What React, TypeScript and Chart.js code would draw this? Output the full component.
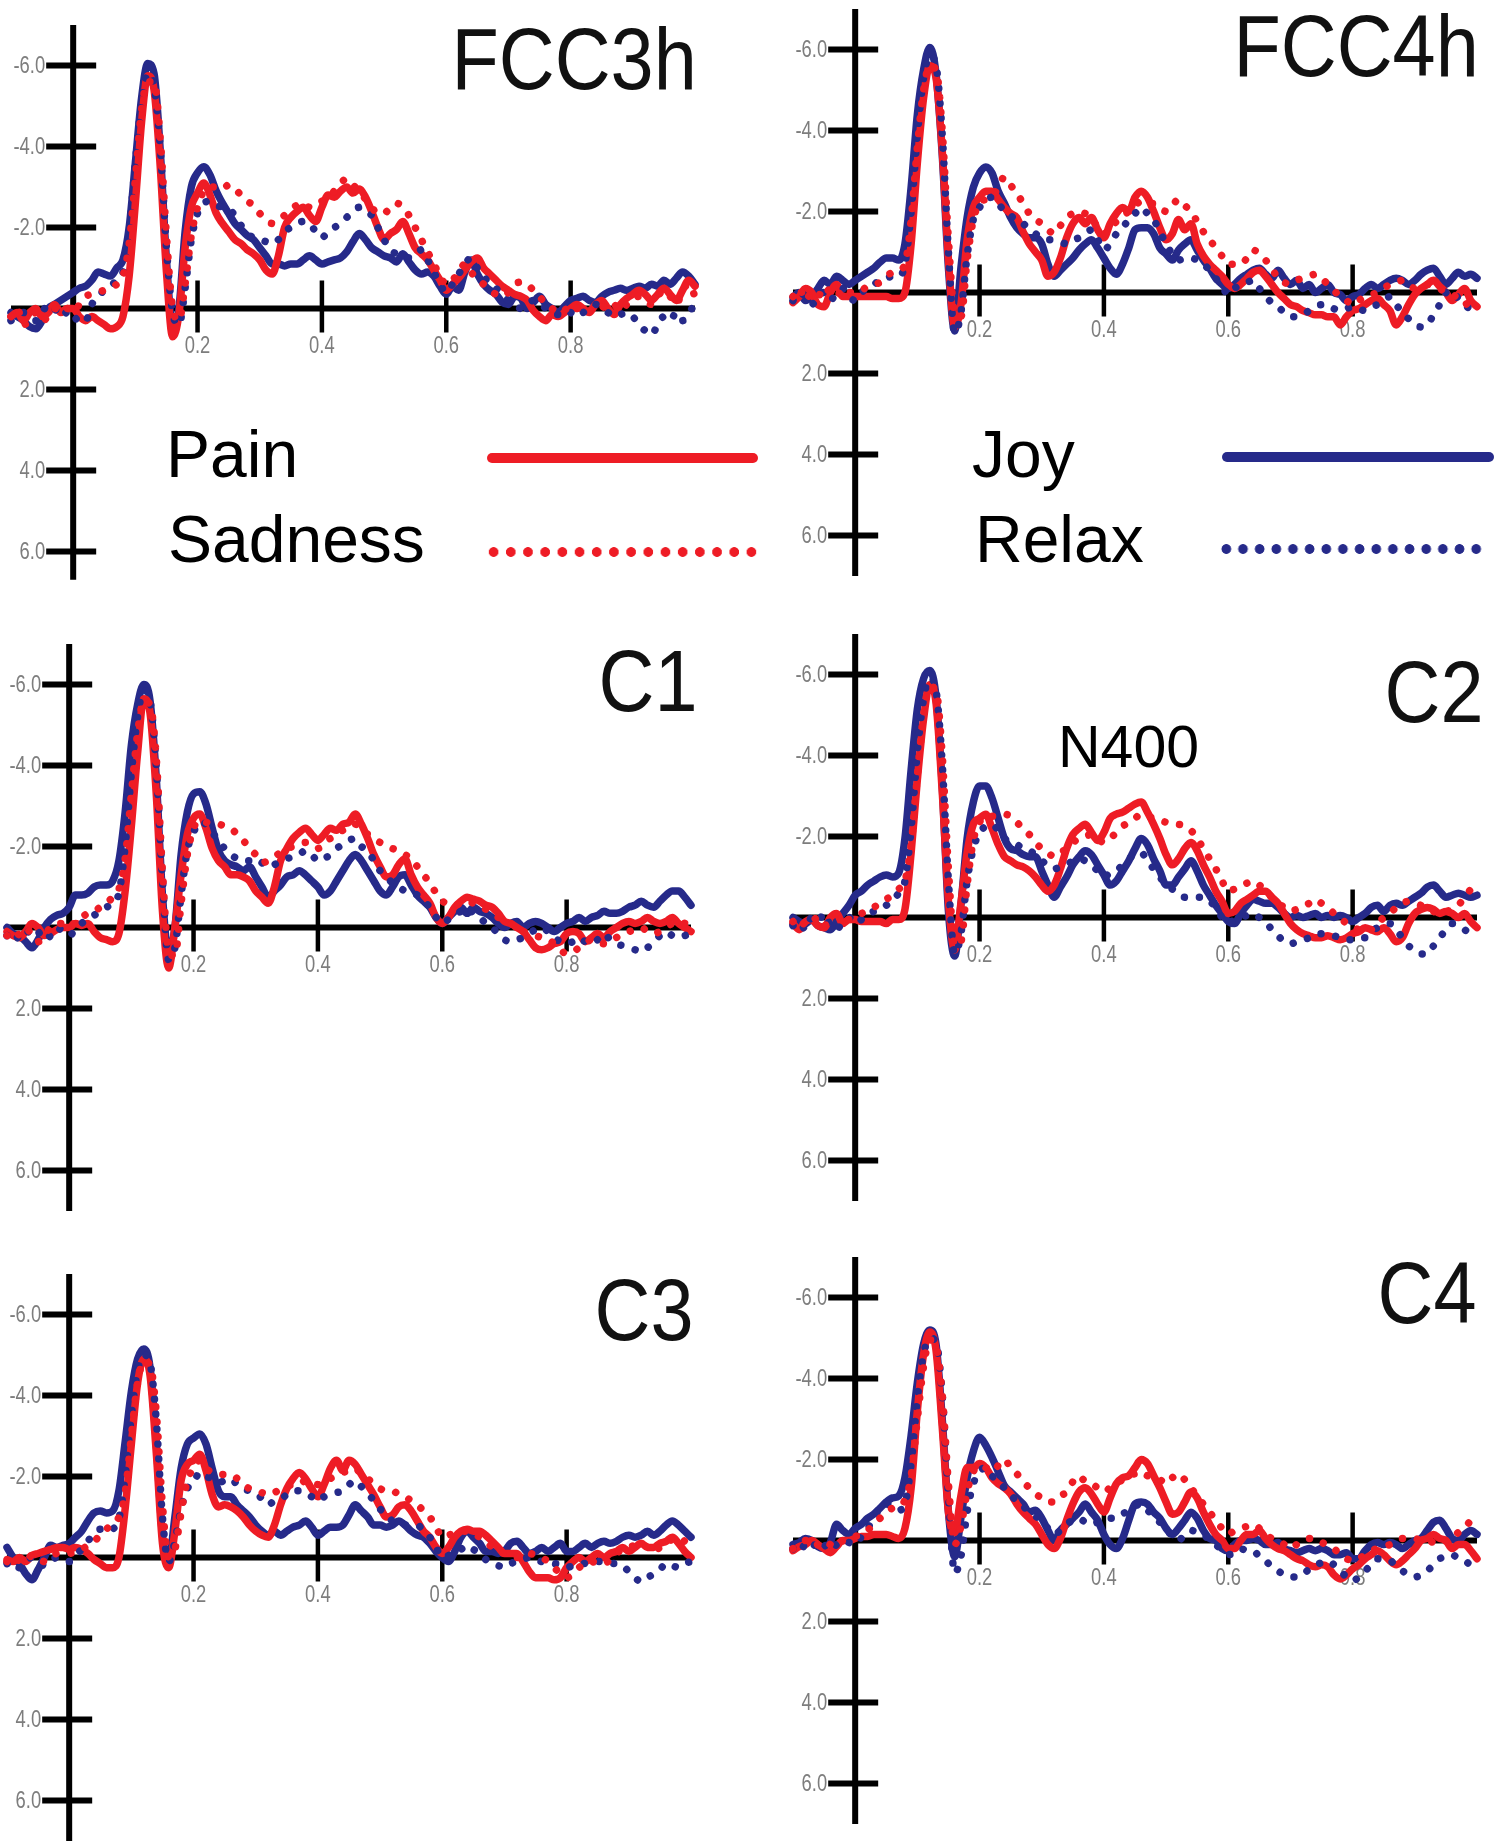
import React, { useEffect, useRef } from "react";
import { Chart, registerables } from "chart.js";

Chart.register(...registerables);

// ---------- data ----------
const TIME = [
  -0.1, -0.09, -0.08, -0.07, -0.06, -0.05, -0.04, -0.03, -0.02, -0.01,
  0.0, 0.01, 0.02, 0.03, 0.04, 0.05, 0.06, 0.07, 0.08, 0.09,
  0.1, 0.11, 0.12, 0.13, 0.14, 0.15, 0.16, 0.17, 0.18, 0.19,
  0.2, 0.21, 0.22, 0.23, 0.24, 0.25, 0.26, 0.27, 0.28, 0.29,
  0.3, 0.31, 0.32, 0.33, 0.34, 0.35, 0.36, 0.37, 0.38, 0.39,
  0.4, 0.41, 0.42, 0.43, 0.44, 0.45, 0.46, 0.47, 0.48, 0.49,
  0.5, 0.51, 0.52, 0.53, 0.54, 0.55, 0.56, 0.57, 0.58, 0.59,
  0.6, 0.61, 0.62, 0.63, 0.64, 0.65, 0.66, 0.67, 0.68, 0.69,
  0.7, 0.71, 0.72, 0.73, 0.74, 0.75, 0.76, 0.77, 0.78, 0.79,
  0.8, 0.81, 0.82, 0.83, 0.84, 0.85, 0.86, 0.87, 0.88, 0.89,
  0.9, 0.91, 0.92, 0.93, 0.94, 0.95, 0.96, 0.97, 0.98, 0.99,
  1.0,
];

const SERIES_NAMES = ["Pain", "Sadness", "Joy", "Relax"];
const PANEL_NAMES = ["FCC3h", "FCC4h", "C1", "C2", "C3", "C4"];
const Y_TICKS = [-6, -4, -2, 2, 4, 6];
const Y_TICK_LABELS = ["-6.0", "-4.0", "-2.0", "2.0", "4.0", "6.0"];
const X_TICKS = [0.2, 0.4, 0.6, 0.8];
const X_TICK_LABELS = ["0.2", "0.4", "0.6", "0.8"];
const ANNOTATION = "N400";

// FCC3h
const FCC3H_PAIN = [
  0.2, 0.1, 0.3, 0.1, 0.0, 0.2, 0.1, -0.1, 0.1, 0.0,
  0.0, 0.2, 0.3, 0.2, 0.3, 0.4, 0.5, 0.45, 0.2, -0.8,
  -2.6, -4.6, -5.75, -5.4, -3.5, -0.9, 0.7, 0.15, -1.5, -2.5,
  -2.85, -3.1, -2.8, -2.35, -2.1, -1.9, -1.7, -1.6, -1.45, -1.35,
  -1.2, -0.95, -0.85, -1.3, -2.0, -2.25, -2.4, -2.5, -2.3, -2.15,
  -2.5, -2.8, -2.75, -2.9, -3.0, -2.85, -2.95, -2.75, -2.4, -2.0,
  -1.7, -1.85, -1.95, -2.15, -1.85, -1.5, -1.35, -1.2, -0.95, -0.7,
  -0.45, -0.6, -0.75, -0.95, -1.15, -1.25, -1.0, -0.85, -0.7, -0.55,
  -0.45, -0.35, -0.3, -0.2, 0.05, 0.2, 0.3, 0.15, 0.2, 0.1,
  0.0, -0.1, 0.0, 0.1, -0.1, -0.2, 0.0, 0.15, -0.1, -0.25,
  -0.35, -0.45, -0.35, -0.2, -0.35, -0.5, -0.35, -0.2, -0.45, -0.7,
  -0.55,
];
const FCC3H_SAD = [
  0.2, 0.0, 0.4, 0.3, 0.1, 0.3, 0.2, 0.0, 0.1, 0.0,
  0.1, -0.1, -0.3, -0.35, -0.4, -0.45, -0.5, -0.6, -0.8, -1.6,
  -3.2, -4.9, -5.6, -5.6, -4.2, -1.8, 0.0, 0.3, -0.6, -1.8,
  -2.5, -2.9, -3.0, -3.0, -2.95, -3.05, -2.95, -2.8, -2.65, -2.55,
  -2.35, -2.2, -2.1, -2.2, -2.3, -2.45, -2.55, -2.6, -2.5, -2.55,
  -2.65, -2.75, -2.9, -3.1, -3.2, -3.05, -2.9, -2.7, -2.5, -2.35,
  -2.35, -2.5, -2.6, -2.5, -2.3, -2.0, -1.7, -1.4, -1.1, -0.8,
  -0.6, -0.7, -0.9, -1.1, -0.9, -0.7, -0.6, -0.45, -0.35, -0.3,
  -0.4, -0.6, -0.65, -0.6, -0.45, -0.3, -0.1, 0.0, 0.1, 0.05,
  -0.1, 0.0, -0.05, 0.0, 0.1, 0.0, -0.15, -0.1, 0.05, -0.1,
  -0.25, -0.3, -0.2, -0.1, -0.3, -0.45, -0.3, -0.1, -0.45, -0.6,
  -0.3,
];
const FCC3H_JOY = [
  0.1, 0.2, 0.3, 0.45, 0.5, 0.3, 0.0, -0.1, -0.2, -0.3,
  -0.4, -0.5, -0.55, -0.7, -0.9, -0.85, -0.8, -1.0, -1.2, -2.0,
  -3.6, -5.2, -6.05, -5.8, -3.9, -1.2, 0.45, 0.0, -1.9, -3.0,
  -3.35, -3.5, -3.3, -2.9, -2.6, -2.35, -2.1, -1.95, -1.8, -1.7,
  -1.5, -1.3, -1.1, -1.1, -1.05, -1.1, -1.1, -1.2, -1.3, -1.2,
  -1.1, -1.15, -1.2, -1.25, -1.4, -1.65, -1.85, -1.7, -1.5, -1.4,
  -1.3, -1.25, -1.15, -1.35, -1.15, -0.95, -0.85, -0.9, -0.8, -0.55,
  -0.35, -0.55, -0.45, -0.9, -1.2, -0.85, -0.6, -0.45, -0.35, -0.15,
  -0.1, -0.3, -0.25, 0.0, -0.15, -0.3, -0.1, 0.0, 0.1, -0.05,
  -0.2, -0.25, -0.3, -0.2, -0.15, -0.3, -0.4, -0.45, -0.5, -0.45,
  -0.5, -0.55, -0.5, -0.6, -0.55, -0.7, -0.6, -0.75, -0.9, -0.8,
  -0.6,
];
const FCC3H_RELAX = [
  0.3, 0.2, 0.1, 0.2, 0.3, 0.1, -0.1, 0.0, 0.2, 0.1,
  0.3, 0.2, 0.3, -0.1, -0.3, -0.45, -0.55, -0.7, -0.9, -1.9,
  -3.6, -5.1, -5.8, -5.5, -4.0, -1.5, 0.1, 0.4, -0.5, -1.7,
  -2.35, -2.6, -2.65, -2.55, -2.5, -2.45, -2.3, -2.05, -1.85, -1.75,
  -1.7, -1.65, -1.6, -1.7, -1.9, -2.0, -2.1, -2.15, -2.1, -1.9,
  -1.75, -1.9, -2.0, -2.1, -2.25, -2.4, -2.5, -2.4, -2.3, -2.0,
  -1.7, -1.45, -1.35, -1.3, -1.25, -1.3, -1.45, -1.2, -0.9, -0.6,
  -0.4, -0.6, -0.85, -1.1, -1.25, -1.0, -0.8, -0.6, -0.5, -0.3,
  -0.2, -0.1, 0.0, -0.1, -0.2, -0.15, 0.0, 0.1, 0.15, 0.05,
  0.1, 0.2, 0.1, 0.0, -0.1, 0.0, 0.1, 0.2, 0.15, 0.1,
  0.2, 0.4, 0.55, 0.65, 0.4, 0.2, 0.3, 0.1, 0.3, 0.1,
  -0.1,
];

// FCC4h
const FCC4H_PAIN = [
  0.25, 0.1, -0.1, 0.0, 0.3, 0.35, 0.0, -0.2, 0.1, 0.1,
  0.1, 0.1, 0.1, 0.1, 0.1, 0.1, 0.15, 0.15, 0.0, -1.2,
  -3.2, -4.8, -5.6, -5.3, -3.5, -0.8, 0.85, 0.3, -1.3, -2.1,
  -2.35, -2.5, -2.5, -2.3, -2.1, -1.95, -1.85, -1.5, -1.2, -1.0,
  -0.8, -0.4, -0.5, -0.85, -1.35, -1.7, -1.85, -1.7, -1.85, -1.55,
  -1.35, -1.7, -1.95, -2.1, -2.0, -2.35, -2.5, -2.35, -2.0, -1.6,
  -1.3, -1.45, -1.8, -1.55, -1.7, -1.2, -0.9, -0.7, -0.55, -0.4,
  -0.2, -0.1, -0.2, -0.35, -0.5, -0.55, -0.4, -0.2, 0.0, 0.15,
  0.3, 0.35, 0.45, 0.5, 0.55, 0.55, 0.6, 0.6, 0.8, 0.6,
  0.45, 0.4, 0.3, 0.2, 0.15, 0.3, 0.45, 0.8, 0.6, 0.3,
  0.05, -0.1, -0.2, -0.3, -0.15, 0.0, 0.2, 0.05, -0.1, 0.2,
  0.35,
];
const FCC4H_SAD = [
  0.1, -0.1, 0.2, 0.0, 0.1, -0.15, 0.0, 0.1, -0.1, 0.0,
  0.0, -0.05, -0.15, -0.2, -0.25, -0.4, -0.5, -0.55, -0.7, -1.8,
  -3.6, -5.0, -5.6, -5.5, -4.0, -1.3, 0.5, 0.6, -0.8, -1.8,
  -2.2, -2.3, -2.35, -2.6, -2.85, -2.65, -2.45, -2.2, -1.95, -1.8,
  -1.7, -1.55, -1.45, -1.65, -1.85, -1.95, -2.0, -1.95, -1.85, -1.6,
  -1.45, -1.6, -1.75, -1.9, -2.0, -2.15, -2.25, -2.2, -2.2, -2.1,
  -2.0, -2.15, -2.3, -2.15, -2.0, -1.75, -1.5, -1.3, -1.1, -0.9,
  -0.7, -0.7, -0.7, -0.85, -1.05, -0.95, -0.8, -0.6, -0.35, -0.25,
  -0.2, -0.3, -0.35, -0.4, -0.45, -0.35, -0.2, -0.05, 0.1, 0.2,
  0.3, 0.2, 0.1, 0.05, 0.0, -0.1, -0.2, -0.25, -0.3, -0.2,
  -0.1, -0.15, -0.2, -0.15, -0.1, 0.0, 0.05, 0.15, 0.3, 0.2,
  0.1,
];
const FCC4H_JOY = [
  0.12, 0.0, 0.2, 0.1, -0.1, -0.3, -0.2, -0.4, -0.3, -0.2,
  -0.3, -0.4, -0.5, -0.6, -0.75, -0.85, -0.85, -0.8, -1.2, -2.6,
  -4.4, -5.5, -6.05, -5.4, -3.4, -0.6, 0.95, -0.6, -1.85, -2.6,
  -2.95, -3.1, -2.95, -2.5, -2.2, -1.85, -1.6, -1.45, -1.35, -1.35,
  -1.2, -0.7, -0.4, -0.55, -0.7, -0.85, -1.05, -1.2, -1.3, -1.1,
  -0.85, -0.6, -0.45, -0.7, -1.1, -1.55, -1.6, -1.6, -1.45, -1.1,
  -0.95, -0.8, -1.05, -1.2, -1.3, -1.05, -0.8, -0.6, -0.35, -0.2,
  -0.1, -0.2, -0.35, -0.45, -0.55, -0.6, -0.45, -0.35, -0.55, -0.35,
  -0.2, -0.3, -0.1, -0.2, 0.0, -0.1, -0.2, 0.0, 0.05, 0.2,
  0.1, 0.05, -0.1, -0.2, -0.1, -0.2, -0.3, -0.35, -0.3, -0.2,
  -0.3, -0.45, -0.55, -0.6, -0.4, -0.2, -0.35, -0.5, -0.4, -0.45,
  -0.35,
];
const FCC4H_RELAX = [
  0.2, 0.0, 0.1, 0.3, 0.1, 0.0, 0.2, 0.0, -0.1, 0.1,
  0.2, 0.0, -0.1, -0.2, -0.3, -0.35, -0.4, -0.4, -0.7, -2.0,
  -3.9, -5.3, -5.85, -5.6, -3.9, -1.0, 1.0, 0.5, -0.9, -1.8,
  -2.1, -2.3, -2.35, -2.2, -2.0, -1.9, -1.75, -1.7, -1.55, -1.45,
  -1.35, -1.3, -1.3, -1.25, -1.2, -1.3, -1.35, -1.45, -1.55, -1.3,
  -1.05, -1.2, -1.45, -1.6, -1.8, -1.95, -2.1, -1.95, -1.8, -1.5,
  -1.2, -0.95, -0.8, -0.85, -0.85, -0.8, -0.7, -0.55, -0.35, -0.15,
  0.05, -0.1, -0.2, -0.25, -0.3, -0.1, 0.1, 0.25, 0.35, 0.5,
  0.6, 0.6, 0.55, 0.45, 0.35, 0.3, 0.3, 0.4, 0.45, 0.4,
  0.35, 0.4, 0.45, 0.35, 0.3, 0.2, 0.1, 0.3, 0.5, 0.65,
  0.8, 0.85, 0.8, 0.55, 0.3, 0.0, -0.05, 0.15, 0.3, 0.4,
  0.4,
];

// C1
const C1_PAIN = [
  0.1, 0.2, 0.25, 0.1, -0.1, 0.0, 0.2, 0.15, 0.05, 0.0,
  0.0, -0.1, -0.05, -0.1, 0.1, 0.25, 0.3, 0.35, 0.15, -0.9,
  -2.5, -4.3, -5.65, -5.3, -3.3, -0.4, 1.0, 0.0, -1.3, -2.3,
  -2.7, -2.8, -2.45, -1.95, -1.65, -1.5, -1.3, -1.3, -1.25, -1.15,
  -0.9, -0.75, -0.6, -1.0, -1.65, -1.95, -2.2, -2.35, -2.45, -2.3,
  -2.15, -2.3, -2.45, -2.4, -2.55, -2.6, -2.8, -2.55, -2.2, -1.8,
  -1.5, -1.25, -1.3, -1.55, -1.7, -1.3, -1.0, -0.8, -0.6, -0.25,
  -0.1, -0.25, -0.5, -0.65, -0.75, -0.7, -0.65, -0.55, -0.5, -0.35,
  -0.15, -0.1, 0.0, 0.1, 0.3, 0.5, 0.55, 0.5, 0.4, 0.35,
  0.15, 0.1, 0.15, 0.35, 0.25, 0.15, 0.25, 0.1, 0.0, -0.1,
  -0.15, -0.1, -0.15, -0.25, -0.15, -0.1, -0.15, -0.25, -0.1, 0.0,
  0.1,
];
const C1_SAD = [
  0.2, 0.3, 0.15, 0.0, 0.2, 0.35, 0.2, 0.0, -0.1, -0.1,
  0.0, -0.15, -0.25, -0.35, -0.4, -0.5, -0.6, -0.75, -0.95, -1.7,
  -3.3, -4.8, -5.6, -5.5, -4.2, -1.4, 0.6, 0.7, -0.6, -1.8,
  -2.45, -2.65, -2.6, -2.55, -2.55, -2.5, -2.45, -2.3, -2.15, -1.95,
  -1.8, -1.6, -1.65, -1.75, -1.85, -1.95, -2.0, -2.05, -2.1, -2.0,
  -1.95, -2.1, -2.2, -2.3, -2.4, -2.45, -2.55, -2.4, -2.3, -2.2,
  -2.1, -2.05, -1.95, -1.9, -1.8, -1.7, -1.5, -1.3, -1.1, -0.85,
  -0.65, -0.6, -0.55, -0.6, -0.65, -0.6, -0.55, -0.45, -0.35, -0.25,
  -0.15, -0.1, 0.0, 0.1, 0.15, 0.2, 0.25, 0.3, 0.4, 0.55,
  0.65, 0.6, 0.5, 0.4, 0.3, 0.35, 0.4, 0.35, 0.25, 0.15,
  0.1, 0.05, 0.0, 0.1, 0.15, 0.1, 0.0, -0.1, -0.15, -0.1,
  -0.05,
];
const C1_JOY = [
  0.0, 0.15, 0.2, 0.35, 0.5, 0.3, 0.0, -0.2, -0.3, -0.35,
  -0.5, -0.8, -0.8, -0.85, -1.0, -1.05, -1.05, -1.15, -1.65, -2.85,
  -4.5, -5.5, -6.0, -5.6, -3.7, -0.8, 0.65, 0.0, -1.8, -2.85,
  -3.3, -3.35, -3.05, -2.45, -1.9, -1.65, -1.55, -1.5, -1.4, -1.5,
  -1.25, -1.0, -0.75, -0.9, -1.05, -1.25, -1.3, -1.4, -1.3, -1.15,
  -1.0, -0.8, -0.9, -1.15, -1.4, -1.65, -1.8, -1.65, -1.4, -1.15,
  -0.9, -0.8, -1.0, -1.25, -1.3, -1.05, -0.8, -0.65, -0.5, -0.25,
  -0.1, -0.25, -0.4, -0.5, -0.35, -0.5, -0.4, -0.35, -0.25, -0.1,
  0.0, -0.1, -0.15, 0.0, -0.1, -0.15, -0.1, 0.0, 0.1, 0.0,
  -0.1, -0.15, -0.25, -0.15, -0.25, -0.3, -0.4, -0.35, -0.35, -0.4,
  -0.5, -0.55, -0.65, -0.55, -0.5, -0.65, -0.8, -0.9, -0.9, -0.75,
  -0.55,
];
const C1_RELAX = [
  0.2, 0.1, 0.3, 0.2, 0.0, 0.1, 0.3, 0.2, 0.0, 0.1,
  0.2, 0.05, -0.1, -0.2, -0.3, -0.4, -0.5, -0.6, -0.85, -2.0,
  -3.8, -5.2, -5.85, -5.6, -4.0, -1.2, 0.8, 0.5, -0.8, -1.9,
  -2.35, -2.6, -2.55, -2.35, -2.15, -1.95, -1.8, -1.7, -1.65, -1.65,
  -1.7, -1.6, -1.5, -1.55, -1.65, -1.7, -1.75, -1.8, -1.9, -1.8,
  -1.65, -1.7, -1.8, -1.95, -2.05, -2.15, -2.2, -2.0, -1.9, -1.65,
  -1.4, -1.25, -1.1, -1.0, -0.9, -0.85, -0.8, -0.65, -0.5, -0.25,
  -0.1, -0.2, -0.3, -0.4, -0.5, -0.35, -0.25, -0.1, 0.0, 0.15,
  0.3, 0.35, 0.3, 0.25, 0.15, 0.05, 0.0, 0.1, 0.25, 0.35,
  0.4, 0.35, 0.25, 0.35, 0.4, 0.3, 0.15, 0.3, 0.4, 0.45,
  0.5, 0.55, 0.6, 0.5, 0.35, 0.2, 0.1, 0.2, 0.25, 0.2,
  0.15,
];

// C2
const C2_PAIN = [
  0.15, 0.3, 0.1, 0.05, 0.2, 0.25, 0.0, -0.1, 0.15, 0.05,
  0.05, 0.1, 0.1, 0.1, 0.1, 0.15, 0.05, 0.05, -0.2, -1.6,
  -3.4, -4.9, -5.75, -5.3, -3.1, -0.4, 0.8, -0.35, -1.6, -2.3,
  -2.45, -2.55, -2.2, -1.8, -1.5, -1.4, -1.3, -1.25, -1.15, -1.0,
  -0.8, -0.65, -0.8, -1.2, -1.7, -2.05, -2.2, -2.3, -2.1, -1.9,
  -2.1, -2.45, -2.55, -2.6, -2.7, -2.8, -2.85, -2.6, -2.3, -1.95,
  -1.55, -1.3, -1.45, -1.7, -1.85, -1.65, -1.3, -1.0, -0.65, -0.4,
  -0.1, -0.15, -0.35, -0.45, -0.55, -0.65, -0.65, -0.5, -0.35, -0.1,
  0.15, 0.3, 0.4, 0.45, 0.5, 0.5, 0.45, 0.5, 0.55, 0.5,
  0.4, 0.35, 0.25, 0.3, 0.35, 0.25, 0.4, 0.6, 0.5, 0.15,
  -0.1, -0.2, -0.25, -0.2, -0.1, -0.15, -0.1, 0.0, -0.1, 0.1,
  0.25,
];
const C2_SAD = [
  0.1, 0.0, 0.2, 0.1, 0.0, 0.2, 0.1, -0.1, 0.0, 0.05,
  0.0, -0.1, -0.15, -0.25, -0.35, -0.45, -0.55, -0.7, -0.9, -1.8,
  -3.5, -5.0, -5.7, -5.6, -4.0, -1.2, 0.7, 0.6, -0.8, -1.9,
  -2.35, -2.5, -2.5, -2.5, -2.55, -2.5, -2.35, -2.2, -2.05, -1.85,
  -1.7, -1.6, -1.5, -1.6, -1.7, -1.85, -1.95, -2.0, -2.05, -1.95,
  -1.85, -1.95, -2.1, -2.25, -2.35, -2.45, -2.55, -2.5, -2.45, -2.4,
  -2.35, -2.3, -2.3, -2.25, -2.15, -1.95, -1.7, -1.45, -1.2, -0.9,
  -0.65, -0.7, -0.75, -0.85, -0.9, -0.8, -0.65, -0.5, -0.35, -0.25,
  -0.15, -0.2, -0.25, -0.35, -0.45, -0.35, -0.25, -0.1, 0.0, 0.15,
  0.25, 0.3, 0.35, 0.3, 0.15, 0.0, -0.1, -0.25, -0.35, -0.4,
  -0.35, -0.3, -0.25, -0.15, -0.1, -0.15, -0.2, -0.3, -0.5, -0.7,
  -0.9,
];
const C2_JOY = [
  0.0, 0.1, 0.15, 0.05, 0.2, 0.25, 0.3, 0.1, -0.1, -0.3,
  -0.55, -0.65, -0.8, -0.9, -1.0, -1.05, -1.0, -1.1, -1.95, -3.65,
  -5.15, -5.9, -6.1, -5.45, -3.25, -0.15, 0.95, -0.3, -1.95, -2.85,
  -3.25, -3.25, -2.95, -2.45, -1.95, -1.7, -1.65, -1.55, -1.5, -1.5,
  -1.15, -0.8, -0.5, -0.75, -1.0, -1.3, -1.5, -1.65, -1.55, -1.3,
  -1.05, -0.8, -0.9, -1.15, -1.4, -1.7, -1.95, -1.8, -1.45, -1.15,
  -0.8, -0.8, -1.0, -1.2, -1.4, -1.15, -0.8, -0.55, -0.3, -0.1,
  0.1, 0.15, -0.1, -0.3, -0.45, -0.4, -0.35, -0.35, -0.25, -0.1,
  0.0, -0.05, 0.0, -0.05, -0.1, 0.0, -0.05, 0.0, -0.05, 0.0,
  0.1, 0.0, -0.1, -0.25, -0.3, -0.15, -0.3, -0.35, -0.3, -0.4,
  -0.5, -0.6, -0.75, -0.8, -0.65, -0.5, -0.55, -0.6, -0.55, -0.5,
  -0.55,
];
const C2_RELAX = [
  0.2, 0.1, 0.3, 0.0, 0.1, -0.1, 0.2, 0.3, 0.1, 0.0,
  0.15, 0.05, -0.1, -0.15, -0.2, -0.3, -0.45, -0.6, -0.9, -2.2,
  -4.1, -5.4, -5.9, -5.6, -3.8, -0.9, 0.9, 0.4, -0.9, -1.7,
  -2.1, -2.25, -2.3, -2.15, -1.95, -1.85, -1.8, -1.7, -1.65, -1.55,
  -1.4, -1.3, -1.2, -1.25, -1.3, -1.4, -1.45, -1.4, -1.3, -1.15,
  -1.0, -1.1, -1.15, -1.3, -1.45, -1.55, -1.6, -1.4, -1.2, -1.0,
  -0.8, -0.7, -0.55, -0.5, -0.5, -0.5, -0.5, -0.4, -0.25, 0.0,
  0.15, 0.05, 0.0, -0.05, -0.1, 0.0, 0.1, 0.3, 0.45, 0.6,
  0.65, 0.6, 0.55, 0.5, 0.4, 0.4, 0.4, 0.45, 0.5, 0.55,
  0.55, 0.5, 0.5, 0.35, 0.25, 0.2, 0.15, 0.3, 0.5, 0.7,
  0.8, 0.9, 0.9, 0.7, 0.5, 0.3, 0.15, 0.2, 0.3, 0.4,
  0.4,
];

// C3
const C3_PAIN = [
  0.05, 0.1, 0.0, 0.1, -0.05, -0.1, -0.15, -0.2, -0.25, -0.25,
  -0.2, -0.25, -0.2, -0.1, 0.05, 0.15, 0.25, 0.25, 0.0, -1.2,
  -2.8, -4.3, -4.9, -4.5, -2.6, -0.35, 0.25, -0.65, -1.9, -2.3,
  -2.4, -2.55, -2.15, -1.55, -1.25, -1.3, -1.25, -1.15, -1.0, -0.8,
  -0.65, -0.55, -0.5, -0.8, -1.3, -1.7, -1.95, -2.1, -1.95, -1.7,
  -1.5, -1.8, -2.2, -2.4, -2.15, -2.4, -2.3, -2.05, -1.8, -1.55,
  -1.25, -1.0, -1.05, -1.25, -1.3, -1.15, -0.9, -0.65, -0.5, -0.25,
  -0.1, -0.25, -0.5, -0.65, -0.7, -0.65, -0.65, -0.55, -0.4, -0.25,
  -0.1, -0.1, -0.1, 0.1, 0.35, 0.5, 0.5, 0.5, 0.55, 0.5,
  0.25, 0.1, 0.0, 0.1, 0.0, -0.1, 0.0, -0.1, -0.15, -0.25,
  -0.15, -0.25, -0.35, -0.25, -0.25, -0.35, -0.4, -0.5, -0.35, -0.15,
  0.0,
];
const C3_SAD = [
  0.1, 0.2, 0.05, 0.1, -0.05, 0.0, 0.1, 0.0, -0.1, -0.1,
  -0.1, -0.15, -0.2, -0.3, -0.4, -0.55, -0.7, -0.85, -1.0, -1.6,
  -3.0, -4.3, -4.85, -4.75, -3.6, -1.3, 0.0, -0.2, -1.1, -1.9,
  -2.2, -2.4, -2.2, -2.1, -2.05, -2.05, -2.05, -1.95, -1.8, -1.7,
  -1.65, -1.6, -1.55, -1.6, -1.7, -1.75, -1.8, -1.8, -1.9, -1.85,
  -1.8, -1.9, -1.95, -2.05, -2.1, -2.15, -2.2, -2.05, -1.95, -1.8,
  -1.7, -1.65, -1.65, -1.55, -1.5, -1.4, -1.3, -1.15, -1.0, -0.75,
  -0.5, -0.55, -0.6, -0.65, -0.65, -0.6, -0.5, -0.4, -0.25, -0.15,
  -0.1, -0.05, 0.0, -0.05, -0.1, -0.05, 0.0, 0.1, 0.25, 0.4,
  0.5, 0.4, 0.25, 0.15, 0.1, 0.15, 0.15, 0.05, -0.1, -0.2,
  -0.25, -0.3, -0.35, -0.25, -0.15, -0.25, -0.35, -0.45, -0.5, -0.4,
  -0.3,
];
const C3_JOY = [
  -0.25, 0.0, 0.15, 0.4, 0.55, 0.3, 0.0, -0.3, -0.25, -0.3,
  -0.35, -0.5, -0.65, -0.9, -1.1, -1.15, -1.1, -1.15, -1.65, -2.85,
  -4.1, -4.9, -5.15, -4.7, -2.85, -0.55, 0.1, -1.0, -2.2, -2.8,
  -2.95, -3.05, -2.8, -2.2, -1.65, -1.5, -1.5, -1.3, -1.15, -1.0,
  -0.8, -0.65, -0.55, -0.65, -0.55, -0.65, -0.75, -0.8, -0.9, -0.75,
  -0.55, -0.65, -0.75, -0.75, -0.8, -1.05, -1.3, -1.15, -1.0, -0.8,
  -0.8, -0.75, -0.8, -0.9, -0.8, -0.65, -0.55, -0.5, -0.35, -0.15,
  0.0, 0.1, -0.15, -0.5, -0.65, -0.5, -0.35, -0.15, -0.15, -0.1,
  -0.15, -0.35, -0.4, -0.25, -0.1, -0.15, -0.25, -0.15, -0.25, -0.35,
  -0.15, -0.15, -0.25, -0.35, -0.25, -0.35, -0.4, -0.35, -0.4, -0.5,
  -0.55, -0.5, -0.55, -0.65, -0.55, -0.65, -0.8, -0.9, -0.8, -0.65,
  -0.5,
];
const C3_RELAX = [
  0.15, 0.1, 0.25, 0.1, 0.0, 0.1, 0.2, 0.1, 0.0, 0.05,
  0.1, -0.05, -0.2, -0.4, -0.6, -0.7, -0.65, -0.7, -0.95, -2.0,
  -3.5, -4.6, -5.0, -4.8, -3.4, -1.0, 0.1, -0.4, -1.2, -1.7,
  -1.85, -2.1, -2.0, -1.95, -1.85, -1.9, -1.95, -1.8, -1.7, -1.65,
  -1.6, -1.45, -1.3, -1.4, -1.45, -1.55, -1.65, -1.65, -1.6, -1.5,
  -1.4, -1.5, -1.55, -1.6, -1.65, -1.8, -1.9, -1.75, -1.6, -1.4,
  -1.2, -1.05, -0.9, -0.85, -0.8, -0.8, -0.8, -0.65, -0.5, -0.25,
  0.0, -0.05, -0.1, -0.2, -0.3, -0.2, -0.1, 0.05, 0.15, 0.2,
  0.25, 0.15, 0.1, 0.05, 0.0, 0.05, 0.1, 0.15, 0.15, 0.2,
  0.25, 0.2, 0.15, 0.15, 0.15, 0.1, 0.1, 0.15, 0.15, 0.2,
  0.35, 0.5, 0.6, 0.5, 0.4, 0.3, 0.15, 0.2, 0.25, 0.15,
  0.1,
];

// C4
const C4_PAIN = [
  0.25, 0.15, 0.1, 0.0, 0.1, 0.2, 0.3, 0.15, 0.0, 0.0,
  -0.05, -0.1, -0.1, -0.15, -0.15, -0.15, -0.1, -0.05, -0.3, -1.3,
  -3.2, -4.6, -5.15, -4.7, -2.8, -0.7, -0.2, -1.1, -1.8, -1.8,
  -1.9, -1.8, -1.55, -1.4, -1.3, -1.15, -0.9, -0.7, -0.55, -0.4,
  -0.15, 0.1, 0.2, -0.05, -0.5, -0.9, -1.2, -1.3, -1.15, -0.9,
  -0.7, -1.05, -1.4, -1.55, -1.6, -1.8, -2.0, -1.9, -1.6, -1.3,
  -0.95, -0.65, -0.7, -0.95, -1.2, -1.05, -0.7, -0.4, -0.15, 0.0,
  0.2, 0.2, 0.0, -0.15, -0.15, -0.25, -0.05, 0.1, 0.2, 0.25,
  0.35, 0.45, 0.5, 0.6, 0.65, 0.6, 0.65, 0.85, 0.95, 0.85,
  0.7, 0.6, 0.45, 0.35, 0.25, 0.35, 0.5, 0.6, 0.5, 0.35,
  0.2, 0.0, -0.05, -0.15, -0.05, 0.0, 0.2, 0.1, 0.1, 0.25,
  0.45,
];
const C4_SAD = [
  0.2, 0.1, 0.0, 0.15, 0.1, 0.0, 0.1, 0.15, 0.0, -0.05,
  -0.1, -0.15, -0.25, -0.4, -0.55, -0.7, -0.8, -0.85, -1.0, -1.6,
  -3.0, -4.3, -4.95, -4.8, -3.6, -1.4, 0.1, -0.35, -1.2, -1.7,
  -1.85, -1.8, -1.7, -1.85, -2.0, -1.8, -1.65, -1.45, -1.3, -1.15,
  -1.05, -0.95, -0.95, -1.1, -1.2, -1.45, -1.6, -1.45, -1.4, -1.3,
  -1.2, -1.3, -1.4, -1.5, -1.6, -1.65, -1.7, -1.6, -1.55, -1.5,
  -1.4, -1.55, -1.65, -1.5, -1.3, -1.1, -0.9, -0.7, -0.5, -0.3,
  -0.15, -0.25, -0.3, -0.35, -0.4, -0.3, -0.15, -0.05, 0.0, 0.1,
  0.2, 0.1, 0.0, -0.05, -0.05, 0.05, 0.1, 0.2, 0.35, 0.45,
  0.5, 0.45, 0.35, 0.25, 0.2, 0.15, 0.1, 0.0, -0.05, -0.05,
  -0.05, 0.0, 0.0, 0.05, 0.1, 0.0, -0.05, -0.2, -0.3, -0.5,
  -0.65,
];
const C4_JOY = [
  0.1, 0.05, -0.05, 0.0, 0.15, 0.2, 0.05, -0.4, -0.25, -0.15,
  -0.3, -0.4, -0.55, -0.65, -0.8, -0.95, -1.05, -1.1, -1.55, -2.6,
  -3.9, -4.85, -5.2, -4.85, -3.0, -0.7, 0.4, -0.55, -1.55, -2.2,
  -2.55, -2.35, -2.05, -1.7, -1.35, -1.2, -1.05, -0.9, -0.7, -0.75,
  -0.55, -0.25, 0.0, -0.25, -0.4, -0.55, -0.7, -0.9, -0.7, -0.5,
  -0.15, 0.1, 0.2, -0.05, -0.5, -0.9, -0.95, -0.9, -0.7, -0.55,
  -0.3, -0.15, -0.3, -0.5, -0.7, -0.55, -0.25, -0.05, 0.0, 0.2,
  0.25, 0.1, 0.0, 0.0, -0.05, 0.0, 0.1, 0.1, 0.05, 0.2,
  0.25, 0.3, 0.25, 0.2, 0.25, 0.2, 0.25, 0.35, 0.35, 0.3,
  0.45, 0.45, 0.25, 0.1, 0.05, 0.1, 0.05, 0.1, 0.2, 0.1,
  0.0, -0.05, -0.25, -0.45, -0.5, -0.3, -0.05, 0.0, -0.15, -0.25,
  -0.15,
];
const C4_RELAX = [
  0.2, 0.3, 0.1, 0.2, 0.0, 0.1, 0.25, 0.1, 0.0, 0.05,
  0.1, -0.1, -0.3, -0.55, -0.8, -0.9, -0.85, -0.75, -0.9, -1.9,
  -3.5, -4.6, -5.0, -4.9, -3.6, -1.1, 0.8, 0.4, -0.7, -1.4,
  -1.7, -1.8, -1.6, -1.45, -1.3, -1.15, -0.95, -0.85, -0.7, -0.6,
  -0.5, -0.3, -0.15, -0.25, -0.4, -0.5, -0.55, -0.45, -0.4, -0.45,
  -0.5, -0.55, -0.55, -0.65, -0.75, -0.85, -0.9, -0.75, -0.6, -0.45,
  -0.3, -0.1, 0.0, -0.15, -0.25, -0.2, -0.15, 0.0, 0.1, 0.25,
  0.35, 0.3, 0.2, 0.25, 0.25, 0.4, 0.5, 0.65, 0.75, 0.85,
  0.9, 0.9, 0.85, 0.7, 0.6, 0.55, 0.5, 0.6, 0.75, 0.9,
  1.0, 0.9, 0.75, 0.6, 0.45, 0.5, 0.5, 0.65, 0.75, 0.85,
  0.9, 0.85, 0.75, 0.6, 0.45, 0.4, 0.35, 0.45, 0.5, 0.6,
  0.65,
];

const PANEL_SERIES = [
  [FCC3H_PAIN, FCC3H_SAD, FCC3H_JOY, FCC3H_RELAX],
  [FCC4H_PAIN, FCC4H_SAD, FCC4H_JOY, FCC4H_RELAX],
  [C1_PAIN, C1_SAD, C1_JOY, C1_RELAX],
  [C2_PAIN, C2_SAD, C2_JOY, C2_RELAX],
  [C3_PAIN, C3_SAD, C3_JOY, C3_RELAX],
  [C4_PAIN, C4_SAD, C4_JOY, C4_RELAX],
];

// ---------- styling / layout ----------
const RED = "#ee1c25";
const BLUE = "#262a8a";
const X_MIN = -0.1;
const X_MAX = 1.0;
const Y_MIN = -7;
const Y_MAX = 7;
const PLOT_W = 684;
const UV_PX = 40.5;
const PLOT_H = (Y_MAX - Y_MIN) * UV_PX;
const PAD = { left: 90, right: 20, top: 20, bottom: 20 };
const CW = PLOT_W + PAD.left + PAD.right;
const CH = Math.round(PLOT_H + PAD.top + PAD.bottom);
const SEC_PX = PLOT_W / (X_MAX - X_MIN);

// axis origin (value 0,0) of each panel, in page pixels
const PANEL_POS = [
  { x0: 73.5, y0: 308, yBottom: 6.7, title: { right: 697, baseline: 89 } },
  { x0: 855, y0: 292, yBottom: 7, title: { right: 1479, baseline: 76 } },
  { x0: 69, y0: 927.5, yBottom: 7, title: { right: 697, baseline: 711 } },
  { x0: 855, y0: 917.5, yBottom: 7, title: { right: 1483, baseline: 722 } },
  { x0: 69, y0: 1557.5, yBottom: 7, title: { right: 693, baseline: 1340 } },
  { x0: 855, y0: 1540, yBottom: 7, title: { right: 1476, baseline: 1323 } },
];

const STYLES = [
  { color: RED, dotted: false, order: 3 },
  { color: RED, dotted: true, order: 1 },
  { color: BLUE, dotted: false, order: 4 },
  { color: BLUE, dotted: true, order: 2 },
];

const axisPlugin = {
  id: "erpAxes",
  beforeDatasetsDraw(chart: any, _args: any, opts: any) {
    const { ctx } = chart;
    const xs = chart.scales.x;
    const ys = chart.scales.y;
    const px0 = xs.getPixelForValue(0);
    const py0 = ys.getPixelForValue(0);
    ctx.save();
    ctx.strokeStyle = "#000";
    ctx.lineCap = "butt";
    ctx.lineWidth = 6;
    ctx.beginPath();
    ctx.moveTo(px0, ys.getPixelForValue(Y_MIN));
    ctx.lineTo(px0, ys.getPixelForValue(opts.yBottom));
    ctx.moveTo(xs.getPixelForValue(X_MIN), py0);
    ctx.lineTo(xs.getPixelForValue(X_MAX), py0);
    Y_TICKS.forEach((v) => {
      const py = ys.getPixelForValue(v);
      ctx.moveTo(px0 - 27, py);
      ctx.lineTo(px0 + 23, py);
    });
    ctx.stroke();
    ctx.lineWidth = 4.5;
    ctx.beginPath();
    X_TICKS.forEach((v) => {
      const px = xs.getPixelForValue(v);
      ctx.moveTo(px, py0 - 28);
      ctx.lineTo(px, py0 + 24);
    });
    ctx.stroke();

    ctx.fillStyle = "#7d7d7d";
    ctx.font = '23px "Liberation Sans", Arial, sans-serif';
    const sx = 0.8;
    Y_TICKS.forEach((v, i) => {
      const py = ys.getPixelForValue(v);
      ctx.save();
      ctx.translate(px0 - 28, py);
      ctx.scale(sx, 1);
      ctx.textAlign = "right";
      ctx.textBaseline = "middle";
      ctx.fillText(Y_TICK_LABELS[i], 0, 1);
      ctx.restore();
    });
    X_TICKS.forEach((v, i) => {
      const px = xs.getPixelForValue(v);
      ctx.save();
      ctx.translate(px, py0 + 27);
      ctx.scale(sx, 1);
      ctx.textAlign = "center";
      ctx.textBaseline = "top";
      ctx.fillText(X_TICK_LABELS[i], 0, 0);
      ctx.restore();
    });
    ctx.restore();
  },
};

function Panel({ index }: { index: number }) {
  const ref = useRef<HTMLCanvasElement | null>(null);
  const pos = PANEL_POS[index];
  useEffect(() => {
    if (!ref.current) return;
    const series = PANEL_SERIES[index];
    const chart = new Chart(ref.current, {
      type: "line",
      data: {
        datasets: series.map((vals, si) => ({
          label: SERIES_NAMES[si],
          data: TIME.map((t, i) => ({ x: t, y: vals[i] })),
          borderColor: STYLES[si].color,
          borderWidth: STYLES[si].dotted ? 7.5 : 7.5,
          borderDash: STYLES[si].dotted ? [0.01, 15] : [],
          borderCapStyle: "round",
          borderJoinStyle: "round",
          pointRadius: 0,
          fill: false,
          cubicInterpolationMode: "monotone",
          order: STYLES[si].order,
          clip: false,
        })) as any,
      },
      options: {
        animation: false,
        responsive: false,
        maintainAspectRatio: false,
        events: [],
        layout: { padding: PAD },
        scales: {
          x: { type: "linear", min: X_MIN, max: X_MAX, display: false },
          y: { type: "linear", min: Y_MIN, max: Y_MAX, reverse: true, display: false },
        },
        plugins: {
          legend: { display: false },
          tooltip: { enabled: false },
          erpAxes: { yBottom: pos.yBottom },
        } as any,
      },
      plugins: [axisPlugin],
    });
    return () => chart.destroy();
  }, [index]);

  const left = pos.x0 - (0 - X_MIN) * SEC_PX - PAD.left;
  const top = pos.y0 - (0 - Y_MIN) * UV_PX - PAD.top;
  return (
    <canvas
      ref={ref}
      width={CW}
      height={CH}
      style={{ position: "absolute", left, top, width: CW, height: CH }}
    />
  );
}

const FONT = '"Liberation Sans", Arial, Helvetica, sans-serif';

function Title({ text, right, baseline }: { text: string; right: number; baseline: number }) {
  const size = 88;
  return (
    <div
      style={{
        position: "absolute",
        right: 1500 - right,
        top: baseline - 0.8465 * size,
        fontFamily: FONT,
        fontSize: size,
        lineHeight: `${size}px`,
        color: "#111",
        whiteSpace: "nowrap",
        transform: "scaleX(0.88)",
        transformOrigin: "right center",
      }}
    >
      {text}
    </div>
  );
}

function Label({ text, left, baseline, size }: { text: string; left: number; baseline: number; size: number }) {
  return (
    <div
      style={{
        position: "absolute",
        left,
        top: baseline - 0.8465 * size,
        fontFamily: FONT,
        fontSize: size,
        lineHeight: `${size}px`,
        color: "#000",
        whiteSpace: "nowrap",
      }}
    >
      {text}
    </div>
  );
}

function SolidKey({ x1, x2, y, color }: { x1: number; x2: number; y: number; color: string }) {
  return (
    <div
      style={{
        position: "absolute",
        left: x1,
        top: y - 5,
        width: x2 - x1,
        height: 10,
        borderRadius: 5,
        background: color,
      }}
    />
  );
}

function DottedKey({ x1, x2, y, color, n }: { x1: number; x2: number; y: number; color: string; n: number }) {
  const step = (x2 - x1) / (n - 1);
  return (
    <div
      style={{
        position: "absolute",
        left: x1 - step / 2,
        top: y - 5,
        width: step * n,
        height: 10,
        backgroundImage: `radial-gradient(circle at ${step / 2}px 5px, ${color} 4.5px, rgba(255,255,255,0) 5.2px)`,
        backgroundSize: `${step}px 10px`,
        backgroundRepeat: "repeat-x",
      }}
    />
  );
}

export default function App() {
  return (
    <div
      style={{
        position: "absolute",
        left: 0,
        top: 0,
        width: 1500,
        height: 1848,
        background: "#fff",
        overflow: "hidden",
      }}
    >
      {PANEL_NAMES.map((_, i) => (
        <Panel key={i} index={i} />
      ))}
      {PANEL_NAMES.map((name, i) => (
        <Title key={name} text={name} right={PANEL_POS[i].title.right} baseline={PANEL_POS[i].title.baseline} />
      ))}
      <Label text={SERIES_NAMES[0]} left={166} baseline={477} size={66} />
      <Label text={SERIES_NAMES[1]} left={168} baseline={562} size={66} />
      <Label text={SERIES_NAMES[2]} left={972} baseline={477} size={66} />
      <Label text={SERIES_NAMES[3]} left={975} baseline={562} size={66} />
      <SolidKey x1={487} x2={758} y={458} color={RED} />
      <DottedKey x1={494} x2={752} y={552} color={RED} n={16} />
      <SolidKey x1={1222} x2={1494} y={457} color={BLUE} />
      <DottedKey x1={1226} x2={1476} y={549} color={BLUE} n={16} />
      <Label text={ANNOTATION} left={1058} baseline={768} size={59} />
    </div>
  );
}
